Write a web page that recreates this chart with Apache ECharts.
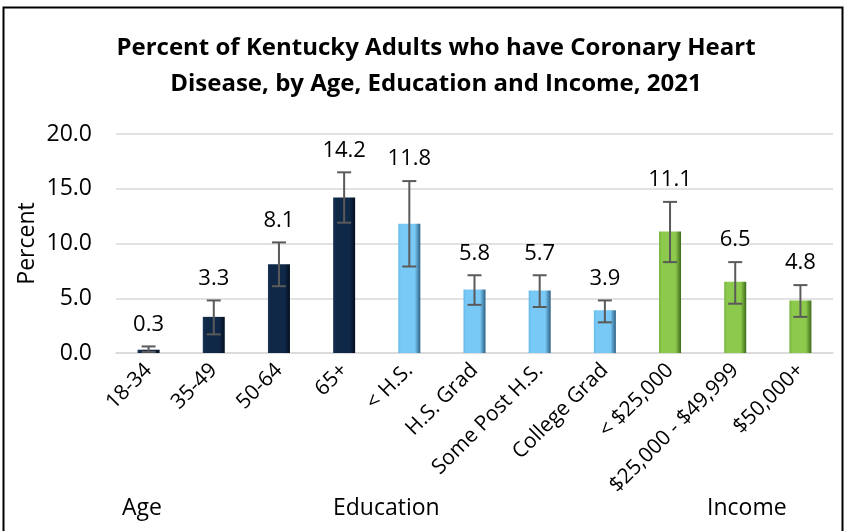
<!DOCTYPE html>
<html>
<head>
<meta charset="utf-8">
<script src="https://cdn.jsdelivr.net/npm/echarts@6/dist/echarts.min.js"></script>
<style>
    html, body { margin: 0; padding: 0; background: #fff; }
    #main { width: 849px; height: 531px; }
</style>
</head>
<body>
<div id="main"></div>
<script>
// 数据
var categories = ['18-34', '35-49', '50-64', '65+', '< H.S.', 'H.S. Grad', 'Some Post H.S.', 'College Grad', '< $25,000', '$25,000 - $49,999', '$50,000+'];
var values = [0.3, 3.3, 8.1, 14.2, 11.8, 5.8, 5.7, 3.9, 11.1, 6.5, 4.8];
var ciLow = [0.1, 1.7, 6.1, 11.9, 7.9, 4.4, 4.2, 2.8, 8.3, 4.5, 3.3];
var ciHigh = [0.6, 4.8, 10.1, 16.5, 15.7, 7.1, 7.1, 4.8, 13.8, 8.3, 6.2];
var groupOf = [0, 0, 0, 0, 1, 1, 1, 1, 2, 2, 2];
var groupNames = ['Age', 'Education', 'Income'];
var yTicks = [0, 5, 10, 15, 20];

var FONT = 'Open Sans';

// 每组的渐变色（左边缘, 中间, 右边缘）
var groupColors = [
    ['#1c3556', '#0f2848', '#050f1f'],
    ['#63b8e8', '#79c9f7', '#2c5f82'],
    ['#72b23a', '#8cc94c', '#3d6a1a']
];

function barColor(g) {
    var c = groupColors[g];
    return new echarts.graphic.LinearGradient(0, 0, 1, 0, [
        { offset: 0, color: c[0] },
        { offset: 0.12, color: c[1] },
        { offset: 0.75, color: c[1] },
        { offset: 1, color: c[2] }
    ]);
}

var barData = values.map(function (v, i) {
    return { value: v, itemStyle: { color: barColor(groupOf[i]) } };
});

var errData = values.map(function (v, i) {
    return [i, ciLow[i], ciHigh[i], v];
});

var myChart = echarts.init(document.getElementById('main'));

var option = {
    animation: false,
    backgroundColor: '#fff',
    title: {
        text: 'Percent of Kentucky Adults who have Coronary Heart\nDisease, by Age, Education and Income, 2021',
        left: 431,
        top: 25,
        textAlign: 'center',
        textStyle: {
            fontFamily: FONT,
            fontWeight: 'bold',
            fontSize: 24,
            lineHeight: 36,
            color: '#000'
        }
    },
    grid: {
        left: 116,
        right: 16,
        top: 134,
        bottom: 178
    },
    xAxis: {
        type: 'category',
        data: categories,
        axisLine: { lineStyle: { color: '#d9d9d9', width: 1.5 } },
        axisTick: { show: false },
        axisLabel: {
            interval: 0,
            rotate: 45,
            margin: 14,
            fontFamily: FONT,
            fontSize: 21,
            color: '#000'
        }
    },
    yAxis: {
        type: 'value',
        min: yTicks[0],
        max: yTicks[yTicks.length - 1],
        interval: 5,
        name: 'Percent',
        nameLocation: 'middle',
        nameGap: 77,
        nameMoveOverlap: false,
        nameTextStyle: { fontFamily: FONT, fontSize: 23, color: '#000' },
        axisLine: { show: false },
        axisTick: { show: false },
        axisLabel: {
            margin: 24,
            fontFamily: FONT,
            fontSize: 23,
            color: '#000',
            formatter: function (v) { return v.toFixed(1); }
        },
        splitLine: { lineStyle: { color: '#d9d9d9', width: 1.5 } }
    },
    series: [
        {
            type: 'bar',
            data: barData,
            barWidth: 22
        },
        {
            // 误差线 + 数值标签
            type: 'custom',
            data: errData,
            z: 5,
            renderItem: function (params, api) {
                var x = api.value(0);
                var lo = api.coord([x, api.value(1)]);
                var hi = api.coord([x, api.value(2)]);
                var top = api.coord([x, api.value(3)]);
                var cap = 7;
                var style = { stroke: '#5a5a5a', lineWidth: 2 };
                var labelY = Math.min(hi[1], top[1]) - 22;
                return {
                    type: 'group',
                    children: [
                        { type: 'line', shape: { x1: hi[0], y1: hi[1], x2: lo[0], y2: lo[1] }, style: style },
                        { type: 'line', shape: { x1: hi[0] - cap, y1: hi[1], x2: hi[0] + cap, y2: hi[1] }, style: style },
                        { type: 'line', shape: { x1: lo[0] - cap, y1: lo[1], x2: lo[0] + cap, y2: lo[1] }, style: style },
                        {
                            type: 'text',
                            style: {
                                x: top[0],
                                y: labelY,
                                text: api.value(3).toFixed(1),
                                align: 'center',
                                verticalAlign: 'middle',
                                fontFamily: FONT,
                                fontSize: 22,
                                fill: '#000'
                            }
                        }
                    ]
                };
            }
        }
    ],
    graphic: [
        {
            type: 'rect',
            shape: { x: 3.5, y: 7.5, width: 839, height: 540 },
            style: { fill: 'none', stroke: '#000', lineWidth: 2 },
            silent: true
        },
        { type: 'text', left: 122, top: 497, style: { text: groupNames[0], fontFamily: FONT, fontSize: 23, fill: '#000' } },
        { type: 'text', left: 333, top: 497, style: { text: groupNames[1], fontFamily: FONT, fontSize: 23, fill: '#000' } },
        { type: 'text', left: 707, top: 497, style: { text: groupNames[2], fontFamily: FONT, fontSize: 23, fill: '#000' } }
    ]
};

myChart.setOption(option);
</script>
</body>
</html>
